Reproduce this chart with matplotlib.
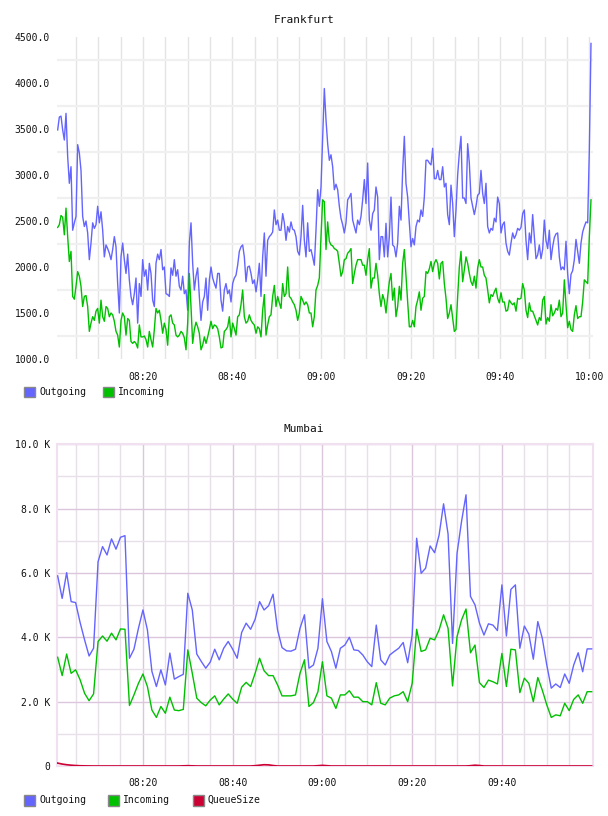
import numpy as np
import matplotlib
matplotlib.use("Agg")
import matplotlib.pyplot as plt
from matplotlib.patches import Rectangle
from matplotlib.ticker import FixedLocator, FuncFormatter

plt.rcParams['font.family'] = ['DejaVu Sans Mono', 'DejaVu Sans']

# ---------------- DATA ----------------
# Frankfurt (minutes after 08:00 sampled evenly from first to last sample)
fra_start_min, fra_end_min = 0.88, 120.39
fra_out = [
    3490, 3630, 3640, 3490, 3380, 3670, 3200, 2910, 3090, 2400,
    2480, 2550, 3330, 3240, 3050, 2550, 2440, 2500, 2370, 2080,
    2260, 2480, 2420, 2460, 2660, 2480, 2600, 2400, 2110, 2240,
    2200, 2150, 2080, 2190, 2330, 2220, 1820, 1500, 2110, 2260,
    2080, 1930, 2140, 1860, 1680, 1590, 1710, 1880, 1390, 1820,
    1680, 2080, 1900, 1970, 1750, 2040, 1930, 1640, 1570, 2040,
    2140, 2080, 2190, 1970, 2000, 1710, 1700, 1680, 1990, 1910,
    2080, 1900, 1970, 1790, 1750, 1900, 1710, 1750, 1530, 2260,
    2480, 2040, 1750, 1900, 1990, 1680, 1420, 1620, 1680, 1880,
    1530, 1860, 2000, 1880, 1820, 1770, 1930, 1930, 1640, 1520,
    1750, 1820, 1710, 1750, 1620, 1820, 1880,
    1910, 2020, 2170, 2220, 2240, 2110, 1840, 2000, 2010, 1930,
    1820, 1860, 1730, 1860, 2040, 1680, 2110, 2370, 1900, 2290,
    2330, 2350, 2380, 2620, 2460, 2510, 2400, 2400, 2580, 2480,
    2290, 2440, 2380, 2490, 2410, 2400, 2330, 2170, 2130, 2330,
    2670, 2290, 2110, 2480, 2170, 2190, 2110, 2020, 2400, 2840,
    2660, 2870, 3420, 3940, 3600, 3340, 3160, 3220, 3090, 2840,
    2900, 2840, 2660, 2530, 2460, 2370, 2480, 2730, 2760, 2800,
    2510, 2440, 2370, 2510, 2460, 2550, 2730, 2950, 2690, 3130,
    2510, 2400, 2580, 2620, 2870, 2760, 2080, 2330, 2330, 2110,
    2475, 2110, 2330, 2760, 2240, 2220, 2110, 2260, 2660, 2510,
    3050, 3420, 2910, 2760, 2480,
    2220, 2310, 2240, 2440, 2510, 2490, 2620, 2550, 2760, 3160,
    3160, 3130, 3110, 3290, 2960, 2960, 3050, 2950, 2950, 3090,
    2870, 2910, 2570, 2460, 2890, 2690, 2330, 2620, 3000, 3240,
    3420, 2750, 2750, 2690, 3340, 3130, 2750, 2660, 2570, 2660,
    2780, 2800, 3050, 2800, 2690, 2910, 2440, 2370, 2420, 2400,
    2530, 2490, 2760, 2690, 2370, 2460, 2490, 2260, 2170, 2130,
    2260, 2370, 2310, 2350, 2420, 2400, 2430, 2580, 2620, 2290,
    2080, 2370, 2260, 2570, 2330, 2090, 2130, 2240, 2090, 2190,
    2510, 2290, 2200, 2400, 2080, 2220, 2320, 2360, 2370, 2110,
    1970, 2000, 1970, 2280, 1930, 1710, 1920, 1960, 2080, 2300,
    2170, 2040, 2260, 2380, 2440, 2490, 2480, 3270, 4430,
]
fra_in = [
    2430, 2460, 2560, 2540, 2350, 2640, 2330, 2060, 2170, 1680,
    1650, 1790, 1950, 1900, 1790, 1570, 1680, 1690, 1570, 1300,
    1390, 1460, 1420, 1520, 1550, 1390, 1640, 1460, 1410, 1570,
    1550, 1460, 1500, 1480, 1410, 1300, 1260, 1130, 1420, 1500,
    1460, 1260, 1440, 1420, 1190, 1170, 1190, 1170, 1120, 1370,
    1240, 1240, 1250, 1210, 1130, 1300, 1210, 1130, 1320, 1550,
    1500, 1530, 1420, 1280, 1390, 1320, 1150, 1460, 1480, 1390,
    1370, 1260, 1240, 1260, 1300, 1280, 1230, 1100, 1390, 1930,
    1570, 1170, 1320, 1400, 1350, 1280, 1100, 1150, 1240, 1170,
    1240, 1320, 1410, 1330, 1370, 1360, 1330, 1240, 1120, 1130,
    1300, 1320, 1350, 1460, 1240, 1390, 1330,
    1260, 1460, 1480, 1590, 1750, 1460, 1390, 1410, 1480, 1420,
    1390, 1370, 1280, 1350, 1330, 1240, 1530, 1700, 1260, 1370,
    1460, 1480, 1680, 1800, 1570, 1680, 1610, 1550, 1820, 1680,
    1710, 2000, 1680, 1660, 1620, 1590, 1530, 1420, 1500, 1680,
    1640, 1590, 1620, 1590, 1500, 1500, 1350, 1460, 1750, 1800,
    1880, 2330, 2730, 2710, 2190, 2490, 2280, 2240, 2230, 2200,
    2190, 2170, 2040, 1900, 1950, 2080, 2090, 2150, 2170, 2200,
    1820, 1930, 2020, 2080, 2080, 2080, 2020, 2020, 1910, 2080,
    2200, 1770, 1880, 1880, 2040, 1910, 1710, 1570, 1700, 1640,
    1500, 1680, 1840, 1930, 1640, 1770, 1460, 1570, 1790, 1640,
    2040, 2190, 1900, 1620, 1350,
    1350, 1420, 1350, 1570, 1640, 1730, 1530, 1660, 1680, 1950,
    1930, 1980, 2060, 1950, 2040, 2080, 2040, 1870, 2040, 2060,
    1820, 1660, 1440, 1500, 1590, 1440, 1300, 1320, 1680, 2000,
    2170, 1840, 1970, 2110, 2040, 1930, 1840, 1800, 1900, 1770,
    1990, 2080, 2000, 2000, 1910, 1880, 1750, 1610, 1700, 1680,
    1730, 1770, 1660, 1610, 1720, 1620, 1620, 1520, 1530, 1640,
    1610, 1590, 1610, 1520, 1660, 1650, 1660, 1820, 1750, 1530,
    1450, 1610, 1520, 1520, 1470, 1420, 1370, 1450, 1420, 1640,
    1680, 1380, 1450, 1410, 1590, 1470, 1500, 1550, 1530, 1640,
    1460, 1500, 1860, 1590, 1340, 1410, 1320, 1300, 1480, 1580,
    1440, 1460, 1460, 1620, 1860, 1840, 1820, 2330, 2730,
]

# Mumbai: one sample per minute, 08:01 .. 10:00
mum_start_min, mum_end_min = 1, 120
mum_out = [
    5910, 5210, 6010, 5110, 5080, 4460, 3920, 3420, 3660, 6350,
    6820, 6560, 7060, 6740, 7110, 7160, 3350, 3630, 4280, 4850,
    4230, 2940, 2470, 2990, 2520, 3510, 2700, 2780, 2850, 5370,
    4850, 3480, 3250, 3040, 3230, 3630, 3300, 3660, 3870, 3630,
    3350, 4150, 4440, 4250, 4560, 5110, 4850, 4980, 5340, 4230,
    3680, 3580, 3570, 3630, 4280, 4700, 3040, 3140, 3660, 5200,
    3870, 3560, 3040, 3660, 3760, 4000, 3610, 3590, 3450, 3240,
    3090, 4380, 3300, 3140, 3450, 3560, 3660, 3840, 3210, 4070,
    7080, 5990, 6150, 6840, 6630, 7180, 8150, 7210, 3810, 6610,
    7600, 8430, 5270, 5010, 4440, 4070, 4420, 4380, 4210, 5630,
    4040, 5490, 5630, 3660, 4350, 4100, 3320, 4490, 3970, 3140,
    2420, 2550, 2440, 2860, 2570, 3140, 3520, 2930, 3640, 3640,
]
mum_in = [
    3380, 2810, 3480, 2880, 2990, 2680, 2260, 2030, 2240, 3870,
    4040, 3880, 4130, 3920, 4260, 4250, 1880, 2210, 2570, 2860,
    2470, 1740, 1510, 1850, 1640, 2140, 1740, 1720, 1760, 3610,
    2880, 2110, 1970, 1870, 2050, 2180, 1900, 2080, 2240, 2080,
    1950, 2450, 2600, 2470, 2880, 3350, 2960, 2810, 2810, 2520,
    2180, 2180, 2180, 2210, 2880, 3300, 1850, 1970, 2310, 3240,
    2180, 2110, 1790, 2210, 2210, 2340, 2140, 2140, 2000, 2000,
    1900, 2590, 1950, 1900, 2110, 2180, 2210, 2310, 2000, 2570,
    4250, 3560, 3610, 3970, 3920, 4230, 4700, 4280, 2490, 4020,
    4540, 4880, 3520, 3760, 2590, 2440, 2670, 2620, 2550, 3500,
    2470, 3630, 3610, 2280, 2730, 2570, 2000, 2750, 2360, 1900,
    1510, 1590, 1560, 1950, 1720, 2070, 2210, 1950, 2310, 2310,
]
mum_queue = [
    90, 60, 40, 25, 15, 8, 4, 2, 0, 0,
    0, 0, 0, 0, 0, 0, 0, 0, 0, 0,
    0, 0, 0, 0, 0, 0, 0, 0, 5, 10,
    5, 0, 0, 0, 0, 0, 0, 0, 0, 0,
    0, 0, 0, 0, 10, 25, 40, 35, 15, 0,
    0, 0, 0, 0, 0, 0, 0, 0, 10, 20,
    10, 0, 0, 0, 0, 0, 0, 0, 0, 0,
    0, 0, 0, 0, 0, 0, 0, 0, 0, 0,
    0, 0, 0, 0, 0, 0, 0, 0, 0, 0,
    0, 0, 10, 25, 15, 0, 0, 0, 0, 0,
    0, 0, 0, 0, 0, 0, 0, 0, 0, 0,
    0, 0, 0, 0, 0, 0, 0, 0, 0, 0,
]

time_ticks = [20, 40, 60, 80, 100, 120]
time_labels = ["08:20", "08:40", "09:00", "09:20", "09:40", "10:00"]
fra_yticks = [1000, 1500, 2000, 2500, 3000, 3500, 4000, 4500]
mum_yticks = [0, 2000, 4000, 6000, 8000, 10000]
series_names = ["Outgoing", "Incoming", "QueueSize"]

# ---------------- STYLE ----------------
C_OUT = "#6464ff"
C_IN = "#00c000"
C_Q = "#cc0033"
FS = 7
W, H = 608, 816

fig = plt.figure(figsize=(W / 100, H / 100), dpi=100)
fig.patch.set_facecolor("white")


def rect(l, t, r, b):
    return [l / W, 1 - b / H, (r - l) / W, (b - t) / H]


def legend(y, items):
    for x, color, name in items:
        fig.add_artist(Rectangle((x / W, 1 - (y + 5.5) / H), 11 / W, 11 / H,
                                 transform=fig.transFigure, facecolor=color,
                                 edgecolor="#888888", lw=1.0))
        fig.text((x + 15) / W, 1 - y / H, name, ha="left", va="center",
                 fontsize=FS, color="#111111")


# ---- Frankfurt ----
ax1 = fig.add_axes(rect(57, 37, 593, 359))
t_fra_out = np.linspace(fra_start_min, fra_end_min, len(fra_out))
t_fra_in = np.linspace(fra_start_min, fra_end_min, len(fra_in))
ax1.plot(t_fra_out, fra_out, color=C_OUT, lw=1.0, zorder=3)
ax1.plot(t_fra_in, fra_in, color=C_IN, lw=1.0, zorder=4)
ax1.set_xlim(0.73, 120.84)
ax1.set_ylim(1000, 4500)
ax1.xaxis.set_major_locator(FixedLocator(time_ticks))
ax1.set_xticklabels(time_labels)
ax1.xaxis.set_minor_locator(FixedLocator([m for m in range(5, 121, 5) if m not in time_ticks]))
ax1.yaxis.set_major_locator(FixedLocator(fra_yticks))
ax1.yaxis.set_major_formatter(FuncFormatter(lambda v, p: f"{v:.1f}"))
ax1.yaxis.set_minor_locator(FixedLocator([v + 250 for v in fra_yticks[:-1]]))
ax1.grid(axis="x", which="both", color="#e4e4e4", lw=1.0)
ax1.grid(axis="y", which="minor", color="#f0f0f0", lw=1.6)
ax1.set_axisbelow(True)
for s in ax1.spines.values():
    s.set_visible(False)
ax1.tick_params(which="both", length=0, labelsize=FS, colors="#111111")
ax1.tick_params(axis="y", pad=5)
ax1.tick_params(axis="x", pad=9)
fig.text(304 / W, 1 - 20 / H, "Frankfurt", ha="center", va="center", fontsize=8, color="#111111")
legend(392, [(24, C_OUT, series_names[0]), (103, C_IN, series_names[1])])

# ---- Mumbai ----
ax2 = fig.add_axes(rect(57, 444.3, 593, 766))
t_mum = np.arange(mum_start_min, mum_end_min + 1)
ax2.plot(t_mum, mum_out, color=C_OUT, lw=1.0, zorder=3)
ax2.plot(t_mum, mum_in, color=C_IN, lw=1.0, zorder=4)
ax2.plot(t_mum, mum_queue, color=C_Q, lw=1.2, zorder=5)
ax2.set_xlim(0.85, 120.3)
ax2.set_ylim(0, 10000)
ax2.xaxis.set_major_locator(FixedLocator(time_ticks[:-1]))
ax2.set_xticklabels(time_labels[:-1])
ax2.xaxis.set_minor_locator(FixedLocator([m for m in range(5, 120, 5) if m not in time_ticks]))
ax2.yaxis.set_major_locator(FixedLocator(mum_yticks))
ax2.yaxis.set_major_formatter(FuncFormatter(lambda v, p: "0" if v == 0 else f"{v / 1000:.1f} K"))
ax2.yaxis.set_minor_locator(FixedLocator([v + 1000 for v in mum_yticks[:-1]]))
ax2.grid(which="major", color="#dcc6dc", lw=1.0)
ax2.grid(which="minor", color="#e8e0e8", lw=1.0)
ax2.set_axisbelow(True)
for s in ax2.spines.values():
    s.set_color("#f0e0f0")
    s.set_linewidth(1.5)
ax2.tick_params(which="both", length=0, labelsize=FS, colors="#111111")
ax2.tick_params(axis="y", pad=5)
ax2.tick_params(axis="x", pad=9)
fig.text(304 / W, 1 - 429 / H, "Mumbai", ha="center", va="center", fontsize=8, color="#111111")
legend(800, [(24, C_OUT, series_names[0]), (108, C_IN, series_names[1]), (193, C_Q, series_names[2])])

fig.savefig("out.png", dpi=100, facecolor="white")
